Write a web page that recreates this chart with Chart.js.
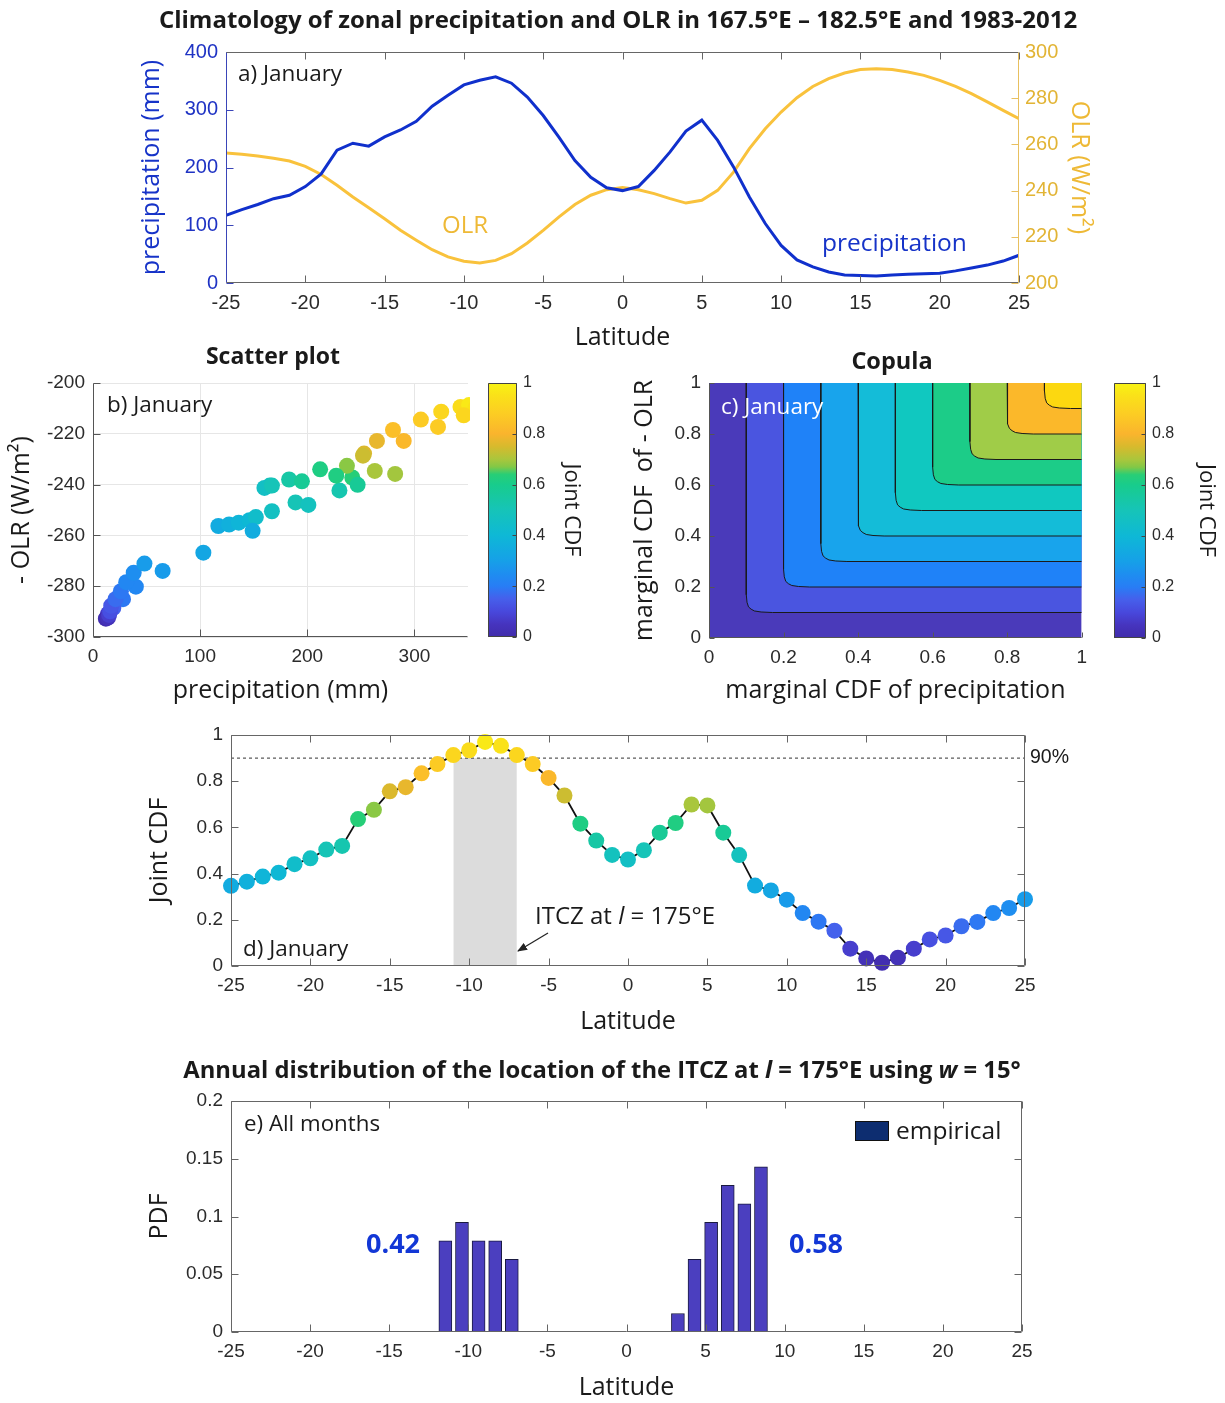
<!DOCTYPE html>
<html>
<head>
<meta charset="utf-8">
<script src="https://cdn.jsdelivr.net/npm/chart.js@4.4.1/dist/chart.umd.min.js"></script>
<style>
  body { margin: 0; background: #fff; }
  #fig { position: relative; width: 1225px; height: 1403px; overflow: hidden; font-family: "Open Sans", sans-serif; color: #1a1a1a; }
  canvas { position: absolute; }
  .t { position: absolute; white-space: nowrap; line-height: 1; }
  .c { transform: translate(-50%, -50%); }
  .l { transform: translateY(-50%); }
  .b { font-weight: 700; }
  svg { position: absolute; left: 0; top: 0; }
</style>
</head>
<body>
<div id="fig">
  <canvas id="cA" width="1225" height="329" style="left:0;top:32px"></canvas>
  <canvas id="cB" width="470" height="370" style="left:0;top:340px"></canvas>
  <canvas id="cBbar" width="130" height="370" style="left:470px;top:340px"></canvas>
  <canvas id="cC" width="495" height="370" style="left:600px;top:340px"></canvas>
  <canvas id="cCbar" width="130" height="370" style="left:1095px;top:340px"></canvas>
  <canvas id="cD" width="1225" height="325" style="left:0;top:715px"></canvas>
  <canvas id="cE" width="1225" height="322" style="left:0;top:1081px"></canvas>

  <div class="t c b" style="left:618px;top:19px;font-size:24px">Climatology of zonal precipitation and OLR in 167.5°E – 182.5°E and 1983-2012</div>
  <div class="t l" style="left:238px;top:73px;font-size:22.5px">a) January</div>
  <div class="t c" style="left:465px;top:224px;font-size:24px;color:#eeb936">OLR</div>
  <div class="t l" style="left:822px;top:242px;font-size:24.5px;color:#1633c8">precipitation</div>

  <div class="t c b" style="left:273px;top:355px;font-size:23px">Scatter plot</div>
  <div class="t l" style="left:107px;top:404px;font-size:22.5px">b) January</div>
  <div class="t c b" style="left:892px;top:361px;font-size:23.5px">Copula</div>
  <div class="t l" style="left:721px;top:406px;font-size:22.5px;color:#fff">c) January</div>

  <div class="t l" style="left:1030px;top:757px;font-size:19.5px;font-family:'Liberation Sans',Arial,sans-serif">90%</div>
  <div class="t l" style="left:535px;top:915px;font-size:24px">ITCZ at <i>l</i> = 175°E</div>
  <div class="t l" style="left:243px;top:948px;font-size:22.5px">d) January</div>

  <div class="t c b" style="left:602px;top:1070px;font-size:23.8px">Annual distribution of the location of the ITCZ at <i>l</i> = 175°E using <i>w</i> = 15°</div>
  <div class="t l" style="left:244px;top:1123px;font-size:22.3px">e) All months</div>
  <div class="t c b" style="left:393px;top:1242px;font-size:27px;color:#1237d6">0.42</div>
  <div class="t c b" style="left:816px;top:1242px;font-size:27px;color:#1237d6">0.58</div>
  <div style="position:absolute;left:855px;top:1121px;width:32px;height:18px;background:#0d2d70;border:1px solid #111"></div>
  <div class="t l" style="left:896px;top:1130px;font-size:24.5px">empirical</div>

  <svg width="1225" height="1403">
    <defs>
      <marker id="ah" markerWidth="10" markerHeight="8" refX="9" refY="4" orient="auto" markerUnits="userSpaceOnUse">
        <path d="M0,0 L10,4 L0,8 z" fill="#222"/>
      </marker>
    </defs>
    <line x1="548" y1="933" x2="518" y2="951" stroke="#222" stroke-width="1.2" marker-end="url(#ah)"/>
  </svg>
</div>

<script>
// ---- data ----
const lat = [-25, -24, -23, -22, -21, -20, -19, -18, -17, -16, -15, -14, -13, -12, -11, -10, -9, -8, -7, -6, -5, -4, -3, -2, -1,
  0, 1, 2, 3, 4, 5, 6, 7, 8, 9, 10, 11, 12, 13, 14, 15, 16, 17, 18, 19, 20, 21, 22, 23, 24, 25];

const precip = [117, 127, 136, 146, 152, 167, 189, 230, 242, 237, 253, 265, 280, 306, 325, 343, 351, 357, 346, 322, 290, 252, 212, 183, 165,
  160, 167, 195, 227, 263, 282, 247, 201, 149, 103, 65, 40, 28, 19, 14, 13, 12, 14, 15, 16, 17, 21, 26, 31, 38, 48];

const olr = [256.3, 255.7, 255, 254, 252.8, 250.5, 247, 242.3, 237.2, 232.6, 227.8, 222.8, 218.5, 214.4, 211.3, 209.4, 208.7, 209.8, 212.7, 217.3, 222.8, 228.6, 234, 238, 240.4,
  241.3, 240.4, 238.7, 236.5, 234.6, 235.8, 240.1, 248, 258.2, 266.8, 274, 280.2, 285.1, 288.5, 290.9, 292.4, 292.8, 292.4, 291.3, 289.9, 287.7, 285.1, 282, 278.4, 274.7, 271.1];

const jointCdf = [0.347, 0.365, 0.387, 0.404, 0.441, 0.466, 0.504, 0.52, 0.636, 0.676, 0.756, 0.774, 0.834, 0.874, 0.913, 0.934, 0.97, 0.953, 0.913, 0.874, 0.814, 0.738, 0.616, 0.543, 0.481,
  0.461, 0.501, 0.577, 0.619, 0.699, 0.695, 0.577, 0.48, 0.348, 0.327, 0.287, 0.229, 0.192, 0.153, 0.075, 0.033, 0.014, 0.036, 0.075, 0.115, 0.132, 0.172, 0.191, 0.229, 0.251, 0.289];

const threshold = 0.9;
const itczBand = [-11, -7];

const copulaLevels = [0, 0.1, 0.2, 0.3, 0.4, 0.5, 0.6, 0.7, 0.8, 0.9];
// rounded corner of each contour, offsets from (level, level)
const cornerDx = [0, 0.002, 0.006, 0.013, 0.022, 0.04, 0.07];
const cornerDy = [0.07, 0.04, 0.022, 0.013, 0.006, 0.002, 0];

const binCenters = [-11.45, -10.4, -9.35, -8.3, -7.25, 3.25, 4.3, 5.35, 6.4, 7.45, 8.5];
const pdf = [0.079, 0.095, 0.079, 0.079, 0.063, 0.016, 0.063, 0.095, 0.127, 0.111, 0.143];

// ---- styles ----
const BLUE = '#1030cc';
const GOLD = '#f9c23c';
const bandColors = ['#4a3aba', '#4a55e0', '#1f82f8', '#18a4ec', '#14bcd8', '#10c8c0', '#1ccc88', '#a0cc48', '#fbb82a', '#fcd810'];
const cmapStops = [
  [0.00, [64, 44, 170]], [0.05, [70, 52, 190]], [0.10, [72, 72, 220]], [0.15, [70, 95, 235]],
  [0.20, [40, 125, 245]], [0.25, [30, 142, 240]], [0.30, [22, 160, 232]], [0.40, [14, 184, 214]],
  [0.50, [22, 196, 184]], [0.60, [24, 204, 140]], [0.64, [40, 206, 118]], [0.67, [130, 200, 70]],
  [0.70, [170, 198, 60]], [0.75, [215, 186, 45]], [0.80, [250, 180, 45]], [0.88, [252, 205, 35]],
  [0.95, [250, 225, 25]], [1.00, [248, 244, 20]]
];
const rgb = c => `rgb(${c[0]},${c[1]},${c[2]})`;
function cmap(v) {
  for (let i = 1; i < cmapStops.length; i++) {
    const [v1, c1] = cmapStops[i];
    if (v <= v1) {
      const [v0, c0] = cmapStops[i - 1];
      const f = (v - v0) / (v1 - v0);
      return rgb(c0.map((x, k) => Math.round(x + f * (c1[k] - x))));
    }
  }
  return rgb(cmapStops[cmapStops.length - 1][1]);
}

const TITLE_FONT = { family: '"Open Sans", sans-serif', size: 25 };
const fixW = w => s => { s.width = w; };
const fixH = h => s => { s.height = h; };
const noGrid = { display: false, drawTicks: false };
const plain = v => String(+v.toFixed(3)); // matlab style: 1, 0.2, 0.05

Chart.defaults.animation = false;
Chart.defaults.layout.autoPadding = false;
Chart.defaults.font.family = '"Liberation Sans", Arial, sans-serif';
Chart.defaults.font.size = 19;
Chart.defaults.color = '#2b2b2b';
Chart.defaults.plugins.legend.display = false;
Chart.defaults.plugins.tooltip.enabled = false;

// matlab style frame with inward ticks
const matlabBox = {
  id: 'matlabBox',
  afterDatasetsDraw(chart, args, o) {
    if (!o || !o.on) return;
    const { ctx, chartArea: a } = chart;
    const col = o.color || '#555';
    const len = o.tick || 7;
    const L = Math.round(a.left) + 0.5, R = Math.round(a.right) - 0.5;
    const T = Math.round(a.top) + 0.5, B = Math.round(a.bottom) - 0.5;
    ctx.save();
    ctx.lineWidth = 1;
    const seg = (x1, y1, x2, y2, c) => {
      ctx.strokeStyle = c; ctx.beginPath(); ctx.moveTo(x1, y1); ctx.lineTo(x2, y2); ctx.stroke();
    };
    const xs = o.x ? chart.scales[o.x] : null;
    const yl = o.yl ? chart.scales[o.yl] : null;
    const yr = o.yr ? chart.scales[o.yr] : (o.box ? yl : null);
    if (xs) xs.ticks.forEach(t => {
      const p = Math.round(xs.getPixelForValue(t.value)) + 0.5;
      seg(p, B, p, B - len, col);
      if (o.box) seg(p, T, p, T + len, col);
    });
    if (yl) yl.ticks.forEach(t => {
      const p = Math.round(yl.getPixelForValue(t.value)) + 0.5;
      seg(L, p, L + len, p, o.leftColor || col);
    });
    if (yr) yr.ticks.forEach(t => {
      const p = Math.round(yr.getPixelForValue(t.value)) + 0.5;
      seg(R, p, R - len, p, o.rightColor || col);
    });
    seg(L, T, L, B, o.leftColor || col);
    seg(L, B, R, B, col);
    if (o.box) {
      seg(L, T, R, T, col);
      seg(R, T, R, B, o.rightColor || col);
    }
    ctx.restore();
  }
};
Chart.register(matlabBox);

const xy = (xsArr, ysArr) => xsArr.map((x, i) => ({ x, y: ysArr[i] }));

// ---- a) precipitation and OLR ----
new Chart(document.getElementById('cA'), {
  type: 'scatter',
  data: {
    datasets: [
      { data: xy(lat, precip), yAxisID: 'y', showLine: true, borderColor: BLUE, borderWidth: 3, pointRadius: 0 },
      { data: xy(lat, olr), yAxisID: 'y2', showLine: true, borderColor: GOLD, borderWidth: 3, pointRadius: 0 }
    ]
  },
  options: {
    responsive: false,
    layout: { padding: { left: 137, right: 131, top: 20, bottom: 8 } },
    scales: {
      x: {
        min: -25, max: 25, grid: noGrid, border: { display: false },
        ticks: { stepSize: 5, padding: 8, font: { size: 20 } },
        title: { display: true, text: 'Latitude', font: TITLE_FONT, color: '#1a1a1a', padding: 0 },
        afterFit: fixH(70)
      },
      y: {
        position: 'left', min: 0, max: 400, grid: noGrid, border: { display: false },
        ticks: { stepSize: 100, padding: 8, color: '#1f33c4', font: { size: 20 } },
        title: { display: true, text: 'precipitation (mm)', font: TITLE_FONT, color: '#1633c8', padding: 0 },
        afterFit: fixW(89)
      },
      y2: {
        position: 'right', min: 200, max: 300, grid: noGrid, border: { display: false },
        ticks: { stepSize: 20, padding: 6, color: '#e2b435', font: { size: 20 } },
        title: { display: true, text: 'OLR (W/m²)', font: TITLE_FONT, color: '#eeb936', padding: 0 },
        afterFit: fixW(75)
      }
    },
    plugins: { matlabBox: { on: true, box: true, x: 'x', yl: 'y', yr: 'y2', leftColor: '#3a45b8', rightColor: '#e8c060', color: '#666' } }
  }
});

// ---- b) scatter plot ----
new Chart(document.getElementById('cB'), {
  type: 'scatter',
  data: {
    datasets: [{
      data: xy(precip, olr.map(v => -v)),
      pointRadius: 8, borderWidth: 0,
      pointBackgroundColor: jointCdf.map(cmap),
      clip: false
    }]
  },
  options: {
    responsive: false,
    layout: { padding: { left: 7, right: 2, top: 43, bottom: 4 } },
    scales: {
      x: {
        min: 0, max: 350, border: { display: false },
        grid: { color: '#e6e6e6', drawTicks: false },
        ticks: { stepSize: 100, includeBounds: false, padding: 8 },
        title: { display: true, text: 'precipitation (mm)', font: TITLE_FONT, color: '#1a1a1a', padding: 0 },
        afterFit: fixH(69)
      },
      y: {
        min: -300, max: -200, border: { display: false },
        grid: { color: '#e6e6e6', drawTicks: false },
        ticks: { stepSize: 20, padding: 8 },
        title: { display: true, text: '- OLR (W/m²)', font: TITLE_FONT, color: '#1a1a1a', padding: 0 },
        afterFit: fixW(86)
      }
    },
    plugins: { matlabBox: { on: true, box: false, x: 'x', yl: 'y', color: '#555' } }
  }
});

// ---- colour bars ----
function barGradient(c) {
  const a = c.chart.chartArea;
  if (!a) return cmap(0.5);
  const g = c.chart.ctx.createLinearGradient(0, a.bottom, 0, a.top);
  cmapStops.forEach(s => g.addColorStop(s[0], rgb(s[1])));
  return g;
}
function colorBar(id, pad, axisW) {
  new Chart(document.getElementById(id), {
    type: 'bar',
    data: { labels: ['cdf'], datasets: [{ data: [[0, 1]], backgroundColor: barGradient, borderWidth: 0, barPercentage: 1, categoryPercentage: 1 }] },
    options: {
      responsive: false,
      layout: { padding: pad },
      scales: {
        x: { display: false },
        y: {
          position: 'right', min: 0, max: 1, grid: noGrid, border: { display: false },
          ticks: { stepSize: 0.2, padding: 6, font: { size: 16 }, callback: plain },
          title: { display: true, text: 'Joint CDF', font: { ...TITLE_FONT, size: 22 }, color: '#1a1a1a', padding: 0 },
          afterFit: fixW(axisW)
        }
      },
      plugins: { matlabBox: { on: true, box: true, yr: 'y', tick: 4, color: '#444' } }
    }
  });
}
colorBar('cBbar', { left: 18, right: 16, top: 43, bottom: 73 }, 67);
colorBar('cCbar', { left: 19, right: 6, top: 43, bottom: 72 }, 73);

// ---- c) copula contours ----
const contourSets = copulaLevels.map((lev, i) => {
  let pts;
  if (lev === 0) {
    pts = [{ x: 0, y: 1 }, { x: 0, y: 0 }, { x: 1, y: 0 }];
  } else {
    pts = [{ x: lev, y: 1 }]
      .concat(cornerDx.map((dx, k) => ({ x: lev + dx, y: lev + cornerDy[k] })))
      .concat([{ x: 1, y: lev }]);
  }
  return {
    data: pts, showLine: true, fill: 'end', order: copulaLevels.length - i,
    backgroundColor: bandColors[i], borderColor: '#1a1a1a',
    borderWidth: lev === 0 ? 0 : 1, pointRadius: 0
  };
});
new Chart(document.getElementById('cC'), {
  type: 'scatter',
  data: { datasets: contourSets },
  options: {
    responsive: false,
    layout: { padding: { left: 30, right: 11, top: 43, bottom: 4 } },
    scales: {
      x: {
        min: 0, max: 1, grid: noGrid, border: { display: false },
        ticks: { stepSize: 0.2, padding: 8, callback: plain },
        title: { display: true, text: 'marginal CDF of precipitation', font: TITLE_FONT, color: '#1a1a1a', padding: 0 },
        afterFit: fixH(68)
      },
      y: {
        min: 0, max: 1, grid: noGrid, border: { display: false },
        ticks: { stepSize: 0.2, padding: 8, callback: plain },
        title: { display: true, text: 'marginal CDF  of - OLR', font: TITLE_FONT, color: '#1a1a1a', padding: 0 },
        afterFit: fixW(79)
      }
    },
    plugins: { matlabBox: { on: true, box: false, x: 'x', yl: 'y', color: '#555', tick: 5 } }
  }
});

// ---- d) joint CDF along latitude ----
new Chart(document.getElementById('cD'), {
  type: 'scatter',
  data: {
    datasets: [
      { data: xy(lat, jointCdf), showLine: true, borderColor: '#111', borderWidth: 1.8, pointRadius: 8, pointBorderWidth: 0,
        pointBackgroundColor: jointCdf.map(cmap), clip: false, order: 1 },
      { data: [{ x: lat[0], y: threshold }, { x: lat[lat.length - 1], y: threshold }], showLine: true,
        borderColor: '#333', borderWidth: 1, borderDash: [3, 3], pointRadius: 0, order: 2 },
      { data: [{ x: itczBand[0], y: threshold }, { x: itczBand[1], y: threshold }], showLine: true, fill: 'origin',
        backgroundColor: '#dcdcdc', borderWidth: 0, pointRadius: 0, order: 3 }
    ]
  },
  options: {
    responsive: false,
    layout: { padding: { left: 145, right: 200, top: 20, bottom: 3 } },
    scales: {
      x: {
        min: -25, max: 25, grid: noGrid, border: { display: false },
        ticks: { stepSize: 5, padding: 8 },
        title: { display: true, text: 'Latitude', font: TITLE_FONT, color: '#1a1a1a', padding: 0 },
        afterFit: fixH(71)
      },
      y: {
        min: 0, max: 1, grid: noGrid, border: { display: false },
        ticks: { stepSize: 0.2, padding: 8, callback: plain },
        title: { display: true, text: 'Joint CDF', font: TITLE_FONT, color: '#1a1a1a', padding: 0 },
        afterFit: fixW(86)
      }
    },
    plugins: { matlabBox: { on: true, box: true, x: 'x', yl: 'y', color: '#666' } }
  }
});

// ---- e) annual distribution of ITCZ location ----
new Chart(document.getElementById('cE'), {
  type: 'bar',
  data: {
    datasets: [{ data: xy(binCenters, pdf), backgroundColor: '#4b3fbf', borderColor: '#1a1a40', borderWidth: 1, borderSkipped: false, barThickness: 13 }]
  },
  options: {
    responsive: false,
    layout: { padding: { left: 145, right: 203, top: 20, bottom: 0 } },
    scales: {
      x: {
        type: 'linear', min: -25, max: 25, offset: false, grid: { ...noGrid, offset: false }, border: { display: false },
        ticks: { stepSize: 5, padding: 8 },
        title: { display: true, text: 'Latitude', font: TITLE_FONT, color: '#1a1a1a', padding: 0 },
        afterFit: fixH(71)
      },
      y: {
        min: 0, max: 0.2, grid: noGrid, border: { display: false },
        ticks: { stepSize: 0.05, padding: 8, callback: plain },
        title: { display: true, text: 'PDF', font: TITLE_FONT, color: '#1a1a1a', padding: 0 },
        afterFit: fixW(86)
      }
    },
    plugins: { matlabBox: { on: true, box: true, x: 'x', yl: 'y', color: '#666' } }
  }
});
</script>
</body>
</html>
